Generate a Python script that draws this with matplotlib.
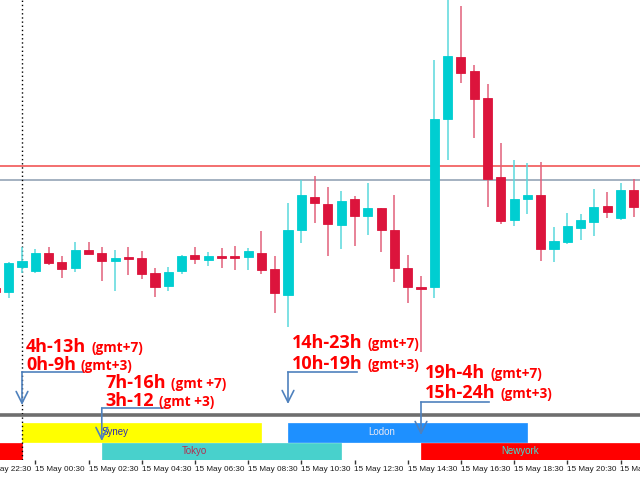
import datetime as dt
import pandas as pd
import matplotlib
matplotlib.use("Agg")
import matplotlib.pyplot as plt
import matplotlib.dates as mdates

# 30 minute candles starting 14 May 23:00
candle_start = "2024-05-14 23:00"
opens = [212, 208, 233, 229, 247, 238, 232, 250, 247, 239, 243, 242, 227, 214, 229, 245, 240, 244,
         243, 243, 247, 231, 205, 270, 303, 296, 275, 301, 284, 292, 270, 232, 213, 213, 381, 443,
         429, 402, 323, 280, 301, 305, 251, 258, 272, 278, 294, 282, 310]
highs = [215, 238, 253, 251, 253, 244, 258, 258, 253, 250, 253, 249, 232, 233, 245, 253, 248, 252,
         254, 252, 269, 244, 297, 320, 324, 313, 309, 304, 317, 292, 305, 245, 224, 440, 508, 494,
         435, 416, 357, 340, 337, 338, 273, 287, 286, 311, 308, 317, 321]
lows = [205, 202, 227, 227, 235, 222, 228, 246, 219, 209, 225, 221, 203, 209, 226, 236, 234, 232,
        230, 230, 226, 187, 173, 257, 277, 244, 251, 254, 265, 248, 218, 197, 148, 202, 340, 417,
        362, 293, 276, 274, 286, 239, 238, 256, 260, 264, 282, 280, 283]
closes = [208, 237, 239, 247, 237, 231, 250, 246, 239, 242, 241, 226, 213, 228, 244, 241, 244, 242,
          242, 249, 230, 207, 270, 305, 297, 276, 299, 284, 292, 270, 232, 213, 211, 381, 444, 427,
          401, 321, 279, 301, 305, 251, 259, 274, 280, 293, 288, 310, 293]

red_level = 334
grey_level = 320

# trading sessions (GMT+3 chart time), 9 hours each
session_names = ["Newyork", "Syney", "Tokyo", "Lodon", "Newyork"]
session_starts = ["2024-05-14 15:00", "2024-05-15 00:00", "2024-05-15 03:00",
                  "2024-05-15 10:00", "2024-05-15 15:00"]
session_length_h = 9
session_rows = [0, 1, 0, 1, 0]
session_colors = ["#ff0000", "#ffff00", "#48d1cc", "#1e90ff", "#ff0000"]
session_text_colors = [None, "#2b2bb0", "#b03050", "#e8e8f4", "#40e0d0"]

note_times = ["2024-05-15 00:00", "2024-05-15 03:00", "2024-05-15 10:00", "2024-05-15 15:00"]
note_gmt7 = ["4h-13h", "7h-16h", "14h-23h", "19h-4h"]
note_gmt3 = ["0h-9h", "3h-12", "10h-19h", "15h-24h"]
note_tag7 = ["(gmt+7)", "(gmt +7)", "(gmt+7)", "(gmt+7)"]
note_tag3 = ["(gmt+3)", "(gmt +3)", "(gmt+3)", "(gmt+3)"]

tick_start = "2024-05-14 22:30"
tick_end = "2024-05-15 22:30"

# ---- layout (pixels on a 640x480 canvas) ----
W, H = 640, 480
PX_PER_H = 26.6
ZERO_PX = 22           # x pixel of 15 May 00:00
LEFT_PX, RIGHT_PX = -30, 670
t_ref = pd.Timestamp("2024-05-15 00:00")


def px_to_time(px):
    return t_ref + pd.Timedelta(hours=(px - ZERO_PX) / PX_PER_H)


xlim = (mdates.date2num(px_to_time(LEFT_PX)), mdates.date2num(px_to_time(RIGHT_PX)))
hour = 1 / 24.0

fig = plt.figure(figsize=(6.4, 4.8), dpi=100)
ax = fig.add_axes([LEFT_PX / W, (H - 414) / H, (RIGHT_PX - LEFT_PX) / W, 414 / H])
panel = fig.add_axes([LEFT_PX / W, (H - 460) / H, (RIGHT_PX - LEFT_PX) / W, 45 / H])
ax.set_zorder(3)
ax.patch.set_alpha(0)

for a in (ax, panel):
    a.set_xlim(xlim)
    for s in a.spines.values():
        s.set_visible(False)
    a.set_yticks([])

ax.set_ylim(86, 500)
ax.set_xticks([])

# candles
times = pd.date_range(candle_start, periods=len(opens), freq="30min")
tnum = mdates.date2num(times)
body_w = 0.34 * hour
for t, o, h, l, c in zip(tnum, opens, highs, lows, closes):
    up = c >= o
    col = "#00ced1" if up else "#dc143c"
    wick = "#5ad8dc" if up else "#e2607a"
    ax.vlines(t, l, h, color=wick, lw=1.1, zorder=2)
    lo, hi = min(o, c), max(o, c)
    if hi - lo < 2:
        hi = lo + 2
    ax.bar(t, hi - lo, bottom=lo, width=body_w, color=col, edgecolor=col, lw=0.6, zorder=3)

ax.axhline(red_level, color="#f04848", lw=1.1, zorder=1)
ax.axhline(grey_level, color="#8c9cb0", lw=1.1, zorder=1)

# day separator
day_x = mdates.date2num(t_ref)
ax.axvline(day_x, color="black", ls=(0, (1, 2)), lw=1.0, zorder=1)
panel.axvline(day_x, color="black", ls=(0, (1, 2)), lw=1.0, zorder=5)

# session bars
panel.set_ylim(0, 45)
row_y = {0: (0, 17), 1: (18, 37)}
for name, start, row, col, tcol in zip(session_names, session_starts, session_rows,
                                        session_colors, session_text_colors):
    s = mdates.date2num(pd.Timestamp(start))
    y0, y1 = row_y[row]
    panel.bar(s, y1 - y0, bottom=y0, width=session_length_h * hour, align="edge",
              color=col, edgecolor=col, lw=0.5, zorder=2)
    if tcol is not None:
        panel.text(s + 3 * hour, (y0 + y1) / 2 + 0.5, name, color=tcol, fontsize=7,
                   family="Liberation Sans", ha="left", va="center", zorder=3)

panel.spines["top"].set_visible(True)
panel.spines["top"].set_color("#6e6e6e")
panel.spines["top"].set_linewidth(2.6)

ticks = pd.date_range(tick_start, tick_end, freq="2h")
panel.set_xticks(mdates.date2num(ticks))
panel.xaxis.set_major_formatter(mdates.DateFormatter("%d %b %H:%M"))
panel.tick_params(axis="x", direction="out", length=3, width=1, color="#333333",
                  labelsize=5.9, pad=1.5, labelcolor="#1a1a1a")
for lab in panel.get_xticklabels():
    lab.set_horizontalalignment("left")
    lab.set_fontfamily("Liberation Sans")

# session notes with arrows
note_y = [(153, 135), (117, 99), (157, 136), (127, 107)]
elbow = [(128, 2.3), (92, 2.3), (128, 2.6), (98, 2.55)]
tips = [95, 59, 96, 65]
arrow_col = "#4f81bd"
for k, t in enumerate(note_times):
    x = mdates.date2num(pd.Timestamp(t))
    for big_s, small_s, y in ((note_gmt7[k], note_tag7[k], note_y[k][0]),
                              (note_gmt3[k], note_tag3[k], note_y[k][1])):
        big = ax.text(x + 0.15 * hour, y, big_s, color="#ff0000", fontsize=13,
                      fontweight="bold", family="Open Sans", ha="left", va="center", zorder=6)
        ax.annotate(small_s, xy=(1, 0), xycoords=big, xytext=(3.5, 0.5),
                    textcoords="offset points", color="#ff0000", fontsize=9.8,
                    fontweight="bold", family="Open Sans", ha="left", va="bottom", zorder=6)
    ey, ex = elbow[k]
    ax.plot([x, x + ex * hour], [ey, ey], color=arrow_col, lw=1.2, clip_on=False, zorder=5)
    ax.annotate("", xy=(x, tips[k]), xytext=(x, ey), annotation_clip=False, zorder=5,
                arrowprops=dict(arrowstyle="->,head_length=0.7,head_width=0.35",
                                color=arrow_col, lw=1.2, shrinkA=0, shrinkB=0,
                                mutation_scale=12))

fig.savefig("out.png", dpi=100)
